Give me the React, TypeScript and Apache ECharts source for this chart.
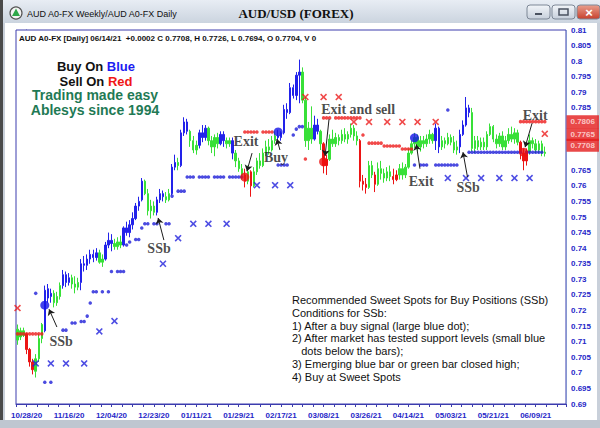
import React, { useEffect, useRef } from 'react';
import * as echarts from 'echarts';

const SANS = '"Liberation Sans", Arial, sans-serif';
const SERIF = '"Liberation Serif", "Times New Roman", serif';

const tickLabels = ['10/28/20', '11/16/20', '12/04/20', '12/23/20', '01/11/21', '01/29/21', '02/17/21', '03/08/21', '03/26/21', '04/14/21', '05/03/21', '05/21/21', '06/09/21'];
const firstBar = -3;
const xMin = -3.5;
const xMax = 178;
// [open, high, low, close, state]  B = buy (blue), G = neutral (green), R = sell (red)
const bars: [number, number, number, number, string][] = [
  [0.7105, 0.7155, 0.709, 0.714, 'G'], [0.7115, 0.7145, 0.7105, 0.7135, 'G'], [0.7135, 0.7145, 0.7115, 0.712, 'G'],
  [0.7125, 0.7128, 0.706, 0.7075, 'R'], [0.7075, 0.708, 0.702, 0.7035, 'R'], [0.7035, 0.7045, 0.6995, 0.701, 'R'],
  [0.7005, 0.706, 0.6985, 0.7045, 'G'], [0.7045, 0.7125, 0.7035, 0.711, 'G'], [0.711, 0.716, 0.7095, 0.7155, 'G'],
  [0.7135, 0.728, 0.713, 0.7265, 'B'], [0.727, 0.7285, 0.7225, 0.724, 'B'], [0.7245, 0.727, 0.7225, 0.7255, 'B'],
  [0.7255, 0.7265, 0.721, 0.7225, 'G'], [0.7225, 0.726, 0.7215, 0.7245, 'G'], [0.7245, 0.729, 0.7235, 0.728, 'G'],
  [0.728, 0.733, 0.727, 0.7315, 'B'], [0.7315, 0.7325, 0.7275, 0.729, 'B'], [0.729, 0.732, 0.728, 0.7305, 'B'],
  [0.7305, 0.7315, 0.727, 0.7285, 'G'], [0.7285, 0.731, 0.7255, 0.7275, 'G'], [0.7275, 0.7305, 0.7265, 0.729, 'G'],
  [0.729, 0.7365, 0.7265, 0.735, 'B'], [0.735, 0.7375, 0.7325, 0.7345, 'B'], [0.7345, 0.738, 0.733, 0.7365, 'B'],
  [0.7365, 0.7395, 0.735, 0.738, 'B'], [0.738, 0.7395, 0.7355, 0.737, 'B'], [0.737, 0.74, 0.736, 0.7385, 'B'],
  [0.7385, 0.7395, 0.735, 0.7355, 'G'], [0.7355, 0.738, 0.734, 0.7365, 'G'], [0.7365, 0.742, 0.736, 0.741, 'B'],
  [0.741, 0.745, 0.74, 0.7425, 'B'], [0.7425, 0.7445, 0.739, 0.7415, 'B'], [0.7415, 0.743, 0.7395, 0.7405, 'G'],
  [0.7405, 0.7435, 0.7395, 0.742, 'G'], [0.742, 0.744, 0.74, 0.741, 'G'], [0.741, 0.747, 0.7405, 0.7465, 'B'],
  [0.7465, 0.7485, 0.744, 0.745, 'B'], [0.745, 0.749, 0.7435, 0.7475, 'B'], [0.7475, 0.7515, 0.746, 0.7495, 'B'],
  [0.7495, 0.7545, 0.749, 0.7535, 'B'], [0.7535, 0.7565, 0.752, 0.755, 'B'], [0.7555, 0.7625, 0.755, 0.7615, 'B'],
  [0.7615, 0.762, 0.757, 0.7575, 'G'], [0.7575, 0.759, 0.7505, 0.752, 'G'], [0.752, 0.7555, 0.7495, 0.7535, 'G'],
  [0.7535, 0.755, 0.7505, 0.7515, 'G'], [0.7515, 0.7565, 0.7505, 0.7555, 'B'], [0.7555, 0.759, 0.7545, 0.7575, 'B'],
  [0.7575, 0.7585, 0.755, 0.7565, 'B'], [0.7565, 0.758, 0.7545, 0.7555, 'G'], [0.7555, 0.759, 0.755, 0.7575, 'G'],
  [0.7575, 0.767, 0.757, 0.766, 'B'], [0.766, 0.77, 0.765, 0.7675, 'B'], [0.7675, 0.769, 0.765, 0.7665, 'G'],
  [0.7665, 0.778, 0.766, 0.777, 'B'], [0.777, 0.782, 0.776, 0.7805, 'B'], [0.7805, 0.7815, 0.7765, 0.7775, 'B'],
  [0.7775, 0.778, 0.7725, 0.7745, 'G'], [0.7745, 0.776, 0.7705, 0.7715, 'G'], [0.7715, 0.7745, 0.77, 0.773, 'G'],
  [0.773, 0.778, 0.772, 0.777, 'B'], [0.777, 0.7795, 0.774, 0.7755, 'B'], [0.7755, 0.7795, 0.7745, 0.7785, 'B'],
  [0.7785, 0.779, 0.773, 0.7745, 'G'], [0.7745, 0.776, 0.7705, 0.7725, 'G'], [0.7725, 0.7765, 0.7695, 0.7755, 'G'],
  [0.7755, 0.777, 0.772, 0.7735, 'G'], [0.7735, 0.7775, 0.773, 0.7765, 'B'], [0.7765, 0.7775, 0.7725, 0.7745, 'B'],
  [0.7745, 0.7755, 0.772, 0.7735, 'G'], [0.7735, 0.7755, 0.7725, 0.7745, 'G'], [0.7745, 0.7755, 0.7685, 0.7705, 'B'],
  [0.7705, 0.7715, 0.766, 0.768, 'G'], [0.768, 0.769, 0.7645, 0.7655, 'G'], [0.7655, 0.767, 0.762, 0.7635, 'G'],
  [0.7635, 0.7655, 0.7595, 0.7615, 'R'], [0.7615, 0.7665, 0.7605, 0.7645, 'G'], [0.7645, 0.765, 0.7565, 0.76, 'R'],
  [0.76, 0.766, 0.7595, 0.7645, 'G'], [0.7645, 0.769, 0.7635, 0.768, 'G'], [0.768, 0.7705, 0.7655, 0.7665, 'G'],
  [0.7665, 0.772, 0.766, 0.7705, 'G'], [0.7705, 0.7745, 0.7695, 0.7725, 'G'], [0.7725, 0.775, 0.77, 0.7715, 'G'],
  [0.7715, 0.776, 0.771, 0.7745, 'G'], [0.7745, 0.7775, 0.7735, 0.776, 'G'], [0.776, 0.778, 0.774, 0.7755, 'B'],
  [0.7755, 0.7775, 0.7745, 0.777, 'B'], [0.777, 0.786, 0.7765, 0.7845, 'B'], [0.7845, 0.7865, 0.7815, 0.7835, 'B'],
  [0.7835, 0.793, 0.783, 0.7915, 'B'], [0.7915, 0.7925, 0.788, 0.789, 'B'], [0.789, 0.7965, 0.7875, 0.7955, 'B'],
  [0.7955, 0.8005, 0.7865, 0.7965, 'B'], [0.7965, 0.798, 0.7865, 0.7875, 'G'], [0.7875, 0.7885, 0.7725, 0.7745, 'G'],
  [0.7745, 0.7805, 0.7715, 0.7785, 'G'], [0.7785, 0.7855, 0.7735, 0.775, 'G'], [0.775, 0.7825, 0.7745, 0.7795, 'B'],
  [0.7795, 0.7815, 0.7765, 0.7775, 'B'], [0.7775, 0.778, 0.7715, 0.7735, 'G'], [0.7735, 0.774, 0.764, 0.7665, 'R'],
  [0.7665, 0.77, 0.7635, 0.7685, 'R'], [0.7685, 0.7765, 0.768, 0.775, 'G'], [0.775, 0.778, 0.7725, 0.7735, 'G'],
  [0.7735, 0.777, 0.7725, 0.7755, 'G'], [0.7755, 0.7765, 0.773, 0.7745, 'G'], [0.7745, 0.778, 0.7735, 0.7765, 'G'],
  [0.7765, 0.7785, 0.774, 0.775, 'G'], [0.775, 0.7775, 0.7735, 0.7765, 'G'], [0.7765, 0.78, 0.7755, 0.7785, 'G'],
  [0.7785, 0.7795, 0.7745, 0.776, 'G'], [0.776, 0.7775, 0.773, 0.7745, 'G'], [0.7745, 0.775, 0.7595, 0.7615, 'R'],
  [0.7615, 0.7635, 0.7585, 0.7605, 'R'], [0.7605, 0.7625, 0.7575, 0.7595, 'R'], [0.7595, 0.768, 0.759, 0.7665, 'G'],
  [0.7665, 0.768, 0.7625, 0.7635, 'G'], [0.7635, 0.7645, 0.758, 0.7605, 'R'], [0.7605, 0.7675, 0.76, 0.7655, 'G'],
  [0.7655, 0.768, 0.762, 0.764, 'G'], [0.764, 0.7655, 0.761, 0.7625, 'G'], [0.7625, 0.766, 0.7615, 0.7645, 'G'],
  [0.7645, 0.7665, 0.7615, 0.763, 'G'], [0.763, 0.7655, 0.7605, 0.762, 'R'], [0.762, 0.765, 0.7615, 0.7635, 'R'],
  [0.7635, 0.767, 0.762, 0.7655, 'G'], [0.7655, 0.7675, 0.762, 0.7635, 'G'], [0.7635, 0.767, 0.7625, 0.766, 'G'],
  [0.766, 0.772, 0.7655, 0.7705, 'G'], [0.7705, 0.7745, 0.77, 0.7735, 'G'], [0.7735, 0.777, 0.772, 0.7755, 'G'],
  [0.7755, 0.7765, 0.771, 0.7725, 'G'], [0.7725, 0.776, 0.771, 0.7745, 'G'], [0.7745, 0.776, 0.772, 0.7735, 'G'],
  [0.7735, 0.7765, 0.7725, 0.775, 'G'], [0.775, 0.778, 0.7735, 0.7765, 'G'], [0.7765, 0.777, 0.7735, 0.7745, 'G'],
  [0.7745, 0.78, 0.7715, 0.7785, 'B'], [0.7785, 0.779, 0.7705, 0.7725, 'B'], [0.7725, 0.776, 0.7715, 0.7745, 'G'],
  [0.7745, 0.7755, 0.772, 0.7735, 'G'], [0.7735, 0.777, 0.773, 0.7755, 'G'], [0.7755, 0.7765, 0.773, 0.774, 'G'],
  [0.774, 0.776, 0.7705, 0.7715, 'G'], [0.7715, 0.7745, 0.77, 0.7725, 'G'], [0.7725, 0.778, 0.7705, 0.7765, 'B'],
  [0.7765, 0.781, 0.776, 0.7795, 'B'], [0.7795, 0.7885, 0.779, 0.785, 'B'], [0.785, 0.786, 0.782, 0.7835, 'B'],
  [0.7835, 0.785, 0.771, 0.772, 'G'], [0.772, 0.776, 0.7705, 0.7745, 'G'], [0.7745, 0.776, 0.7715, 0.7725, 'G'],
  [0.7725, 0.7755, 0.7715, 0.774, 'G'], [0.774, 0.7755, 0.7715, 0.7725, 'G'], [0.7725, 0.7775, 0.7715, 0.7765, 'G'],
  [0.7765, 0.78, 0.776, 0.779, 'G'], [0.779, 0.7795, 0.774, 0.775, 'G'], [0.775, 0.7765, 0.772, 0.7735, 'G'],
  [0.7735, 0.777, 0.7725, 0.776, 'G'], [0.776, 0.7775, 0.7715, 0.7725, 'G'], [0.7725, 0.776, 0.7715, 0.7745, 'G'],
  [0.7745, 0.7785, 0.7735, 0.7765, 'G'], [0.7765, 0.779, 0.774, 0.775, 'G'], [0.775, 0.7785, 0.7735, 0.777, 'G'],
  [0.777, 0.778, 0.773, 0.774, 'G'], [0.774, 0.7745, 0.7685, 0.7705, 'R'], [0.7705, 0.772, 0.765, 0.768, 'R'],
  [0.768, 0.772, 0.7665, 0.771, 'R'], [0.771, 0.7765, 0.77, 0.7745, 'G'], [0.7745, 0.7755, 0.772, 0.7735, 'G'],
  [0.7735, 0.775, 0.7705, 0.7715, 'G'], [0.7715, 0.7745, 0.7705, 0.7735, 'G'], [0.7735, 0.7745, 0.7695, 0.7705, 'G'],
  [0.7704, 0.7726, 0.7694, 0.7708, 'G'],
];

// support levels (small blue dots below the bars): price level and bar indices
const blueDotLevels: { level: number; idx: number[] }[] = [
  { level: 0.7255, idx: [3] }, { level: 0.697, idx: [6, 8] }, { level: 0.7137, idx: [12, 13] },
  { level: 0.716, idx: [15, 16] }, { level: 0.7165, idx: [18, 19] }, { level: 0.7182, idx: [20] }, { level: 0.7224, idx: [21] },
  { level: 0.726, idx: [22, 23, 25, 27] }, { level: 0.7325, idx: [28, 30, 31, 32] },
  { level: 0.741, idx: [33] }, { level: 0.742, idx: [34] }, { level: 0.7428, idx: [36, 37] }, { level: 0.7465, idx: [38] },
  { level: 0.7478, idx: [39, 40, 42, 43, 46, 47] }, { level: 0.7567, idx: [48] }, { level: 0.7583, idx: [50, 51, 52] },
  { level: 0.7628, idx: [53, 54, 55, 57, 58, 59, 60, 62, 63, 64, 65, 67, 68, 69, 70, 71] },
  { level: 0.7667, idx: [83, 84, 85, 86] }, { level: 0.7763, idx: [88] }, { level: 0.7782, idx: [89] }, { level: 0.779, idx: [90, 91] },
  { level: 0.7667, idx: [128, 130, 131, 132, 135, 136, 137, 138, 139, 140, 141, 142] }, { level: 0.7843, idx: [139] },
  { level: 0.7708, idx: [146, 147, 148, 149, 150, 151, 152, 153, 154, 155, 156, 157, 158, 159, 160, 161, 162, 163, 165, 166, 167, 168, 169, 170] },
];
// resistance levels (small red dots above the bars)
const redDotLevels: { level: number; idx: number[] }[] = [
  { level: 0.7125, idx: [-3, -2, -1, 0, 1, 2, 3, 4, 5] },
  { level: 0.7773, idx: [72, 73, 74, 75, 76, 78, 79, 80, 81] }, { level: 0.7686, idx: [92] },
  { level: 0.7818, idx: [98, 99, 100, 102, 103, 104, 105, 106, 107, 108, 109, 110] }, { level: 0.7763, idx: [111] },
  { level: 0.7737, idx: [113, 114, 115, 116, 117] }, { level: 0.7728, idx: [118, 119, 120, 121, 122, 123] },
  { level: 0.7718, idx: [124, 125, 126, 127] }, { level: 0.7806, idx: [163, 164, 165, 166, 167, 168, 169, 170, 171] },
];
const redCrosses: [number, number][] = [
  [-3, 0.7208], [92, 0.7885], [98, 0.7885], [103, 0.7885], [108, 0.7805], [113, 0.7805], [119, 0.7805],
  [124, 0.7805], [129, 0.7805], [135, 0.7805], [171, 0.7767],
];
const blueCrosses: [number, number][] = [
  [3, 0.703], [8, 0.703], [13, 0.703], [19, 0.703], [24, 0.7133], [29, 0.7166], [45, 0.735], [50, 0.7432],
  [55, 0.7478], [60, 0.7478], [66, 0.7478], [76, 0.7602], [82, 0.7602], [87, 0.7602],
  [139, 0.7625], [145, 0.7625], [150, 0.7625], [156, 0.7625], [161, 0.7625], [166, 0.7625],
];
const buySignals: [number, number][] = [[6, 0.7217], [83, 0.7773], [128, 0.7754]];
const exitSignals: [number, number][] = [[72, 0.7628], [98, 0.7677], [164, 0.7708]];
const priceTags = [0.7806, 0.7765, 0.7708];
// axis labels hidden behind the price tags
const coveredTicks = ['0.78', '0.775', '0.77'];

const annotations = [
  { text: 'SSb', at: [11.4, 0.7102], from: [10, 0.7147], to: [7.4, 0.7204] },
  { text: 'SSb', at: [43.7, 0.740], from: [45.3, 0.7426], to: [43.4, 0.7497] },
  { text: 'Exit', at: [72.4, 0.7741], from: [74.4, 0.7705], to: [72.7, 0.7647] },
  { text: 'Buy', at: [82.3, 0.7692], from: [83.6, 0.7715], to: [82.6, 0.775] },
  { text: 'Exit and sell', at: [109.4, 0.7846], from: [99.8, 0.7814], to: [98.5, 0.7696] },
  { text: 'Exit', at: [130.2, 0.7615], from: [129.8, 0.7655], to: [128.6, 0.7733] },
  { text: 'SSb', at: [145.7, 0.7596], from: [145.5, 0.7628], to: [144, 0.7708] },
  { text: 'Exit', at: [167.8, 0.7827], from: [166.8, 0.7801], to: [164.5, 0.7724] },
];

const headerText = 'AUD A0-FX [Daily] 06/14/21  +0.0002 C 0.7708, H 0.7726, L 0.7694, O 0.7704, V 0';
const noteLines = [
  'Recommended Sweet Spots for Buy Positions (SSb)',
  'Conditions for SSb:',
  '1) After a buy signal (large blue dot);',
  '2) After market has tested support levels (small blue',
  '   dots below the bars);',
  '3) Emerging blue bar or green bar closed high;',
  '4) Buy at Sweet Spots',
];

const STATE_COLORS: Record<string, string> = { B: '#2222ea', G: '#38e038', R: '#ec1414' };
const CROSS = 'path://M0,1.6L1.6,0L5,3.4L8.4,0L10,1.6L6.6,5L10,8.4L8.4,10L5,6.6L1.6,10L0,8.4L3.4,5Z';

function levelPoints(levels: { level: number; idx: number[] }[]) {
  const out: [number, number][] = [];
  levels.forEach((l) => l.idx.forEach((i) => out.push([i, l.level])));
  return out;
}

export default function App() {
  const ref = useRef<HTMLDivElement>(null);
  useEffect(() => {
    const chart = echarts.init(ref.current!, null, { renderer: 'svg' });
    const candleData = bars.map((b, k) => {
      const [o, h, l, c, s] = b;
      const col = STATE_COLORS[s];
      return {
        value: [firstBar + k, o, c, l, h],
        itemStyle: { color: col, color0: col, borderColor: col, borderColor0: col },
      };
    });

    const btn = (x: number, fill: any) => ({
      type: 'rect', z: 5, shape: { x, y: 5, width: 23, height: 14, r: 3 },
      style: { fill, stroke: '#7d8796', lineWidth: 1 },
    });
    const btnGrad = new echarts.graphic.LinearGradient(0, 0, 0, 1, [
      { offset: 0, color: '#f2f5f9' }, { offset: 1, color: '#c6cfdb' },
    ]);

    chart.setOption({
      animation: false,
      backgroundColor: '#ffffff',
      grid: {
        left: 16, right: 34, top: 30, bottom: 24, show: true,
        borderColor: '#3c3cae', borderWidth: 1, backgroundColor: '#ffffff', z: 1,
      },
      xAxis: {
        type: 'value', min: xMin, max: xMax, interval: 3.5,
        axisLine: { show: true, lineStyle: { color: '#3c3cae', width: 1 } },
        axisTick: { show: true, length: 3, lineStyle: { color: '#3c3cae' } },
        splitLine: { show: true, lineStyle: { color: '#cdf1f2', width: 1 } },
        axisLabel: {
          color: '#2626c8', fontSize: 8, fontWeight: 'bold', fontFamily: SANS, margin: 7,
          showMinLabel: true, showMaxLabel: true,
          formatter: (v: number) => {
            const k = Math.round(v / 14);
            if (v >= 0 && Math.abs(v / 14 - k) < 1e-6 && tickLabels[k]) return tickLabels[k];
            return '';
          },
        },
      },
      yAxis: {
        type: 'value', position: 'right', min: 0.69, max: 0.81, interval: 0.005,
        axisLine: { show: true, lineStyle: { color: '#3c3cae', width: 1 } },
        axisTick: { show: true, length: 2, lineStyle: { color: '#3c3cae' } },
        splitLine: { show: true, lineStyle: { color: '#cdf1f2', width: 1 } },
        axisLabel: {
          color: '#2626c8', fontSize: 8, fontWeight: 'bold', fontFamily: SANS, margin: 5,
          formatter: (v: number) => {
            const s = v.toFixed(3).replace(/0+$/, '').replace(/\.$/, '');
            return coveredTicks.indexOf(s) >= 0 ? '' : s;
          },
        },
      },
      series: [
        {
          type: 'candlestick', name: 'AUD', data: candleData, encode: { x: 0, y: [1, 2, 3, 4] },
          barWidth: 1.9, itemStyle: { borderWidth: 1 }, z: 3,
        },
        { type: 'scatter', name: 'support', data: levelPoints(blueDotLevels), symbolSize: 3.5, itemStyle: { color: '#1e1ed8' }, z: 4 },
        { type: 'scatter', name: 'resistance', data: levelPoints(redDotLevels), symbolSize: 3.5, itemStyle: { color: '#ee1c1c' }, z: 4 },
        { type: 'scatter', name: 'blueX', data: blueCrosses, symbol: CROSS, symbolSize: 7, itemStyle: { color: '#2020dc' }, z: 4 },
        { type: 'scatter', name: 'redX', data: redCrosses, symbol: CROSS, symbolSize: 7, itemStyle: { color: '#ec1c1c' }, z: 4 },
        { type: 'scatter', name: 'buy', data: buySignals, symbolSize: 9, itemStyle: { color: '#1414e6' }, z: 5 },
        { type: 'scatter', name: 'exit', data: exitSignals, symbolSize: 9, itemStyle: { color: '#ee1010' }, z: 5 },
        {
          type: 'scatter', name: 'tags', clip: false, z: 20, symbolSize: 1, itemStyle: { color: 'transparent' },
          data: priceTags.map((v, k) => ({
            value: [xMax, v],
            label: k === 2 ? { offset: [0, -7] } : {},
          })),
          label: {
            show: true, position: 'right', distance: 0,
            formatter: (p: any) => p.value[1].toFixed(4),
            backgroundColor: '#e41c1c', color: '#ffe6e6', fontSize: 8, fontWeight: 'bold', fontFamily: SANS,
            padding: [3, 4, 2, 4],
          },
        },
        {
          type: 'scatter', name: 'notes', z: 6, symbolSize: 1, itemStyle: { color: 'transparent' },
          data: annotations.map((a) => ({ name: a.text, value: a.at })),
          label: {
            show: true, position: 'inside', formatter: (p: any) => p.name,
            fontFamily: SERIF, fontWeight: 'bold', fontSize: 14, color: '#1c1c1c',
          },
          markLine: {
            silent: true, symbol: ['none', 'arrow'], symbolSize: 6,
            lineStyle: { color: '#1c1c1c', width: 1, type: 'solid' }, label: { show: false },
            data: annotations.map((a) => [{ coord: a.from }, { coord: a.to }]),
          },
        },
      ],
      graphic: [
        // window chrome
        { type: 'rect', z: -10, shape: { x: 0, y: 0, width: 600, height: 428 }, style: { fill: '#c9d0da' } },
        {
          type: 'rect', z: -9, shape: { x: 0, y: 0, width: 600, height: 23 },
          style: { fill: new echarts.graphic.LinearGradient(0, 0, 0, 1, [{ offset: 0, color: '#e8edf4' }, { offset: 1, color: '#cbd4df' }]) },
        },
        { type: 'rect', z: -9, shape: { x: 5, y: 23, width: 592, height: 397 }, style: { fill: '#ffffff' } },
        { type: 'rect', z: -8, shape: { x: 0, y: 0, width: 3, height: 428 }, style: { fill: '#4a4a4a' } },
        { type: 'rect', z: -8, shape: { x: 0, y: 420, width: 600, height: 8 }, style: { fill: '#bfc6d0' } },
        { type: 'circle', z: 5, shape: { cx: 16, cy: 13, r: 6 }, style: { fill: '#f4f4f4', stroke: '#555', lineWidth: 1.2 } },
        { type: 'polygon', z: 6, shape: { points: [[16, 8.5], [20, 16], [12, 16]] }, style: { fill: '#2ea84a' } },
        {
          type: 'text', z: 5, style: {
            text: 'AUD A0-FX Weekly/AUD A0-FX Daily', x: 27, y: 14, fill: '#111',
            fontSize: 9, fontFamily: SANS, verticalAlign: 'middle',
          },
        },
        {
          type: 'text', z: 5, style: {
            text: 'AUD/USD (FOREX)', x: 296, y: 13, fill: '#111', fontSize: 13, fontWeight: 'bold',
            fontFamily: SERIF, align: 'center', verticalAlign: 'middle',
          },
        },
        btn(527, btnGrad),
        { type: 'rect', z: 6, shape: { x: 535, y: 13, width: 7, height: 2 }, style: { fill: '#4a5260' } },
        btn(552, btnGrad),
        { type: 'rect', z: 6, shape: { x: 559, y: 9, width: 9, height: 6 }, style: { fill: 'none', stroke: '#4a5260', lineWidth: 1.5 } },
        btn(577, new echarts.graphic.LinearGradient(0, 0, 0, 1, [{ offset: 0, color: '#e9a08f' }, { offset: 1, color: '#c7402c' }])),
        {
          type: 'text', z: 6, style: {
            text: '×', x: 589, y: 12, fill: '#ffffff', fontSize: 13, fontWeight: 'bold', fontFamily: SANS,
            align: 'center', verticalAlign: 'middle',
          },
        },
        // header line inside the plot
        {
          type: 'text', z: 10, style: {
            text: headerText, x: 19, y: 38, fill: '#111', fontSize: 8, fontWeight: 'bold', fontFamily: SANS,
            verticalAlign: 'middle',
          },
        },
        // legend text
        {
          type: 'text', z: 10, style: {
            text: '{a|Buy On }{b|Blue}', x: 96, y: 66, align: 'center', verticalAlign: 'middle',
            fontSize: 13, fontWeight: 'bold', fontFamily: SANS,
            rich: {
              a: { fill: '#111', fontSize: 13, fontWeight: 'bold', fontFamily: SANS },
              b: { fill: '#1c1cf2', fontSize: 13, fontWeight: 'bold', fontFamily: SANS },
            },
          },
        },
        {
          type: 'text', z: 10, style: {
            text: '{a|Sell On }{b|Red}', x: 96, y: 81, align: 'center', verticalAlign: 'middle',
            fontSize: 13, fontWeight: 'bold', fontFamily: SANS,
            rich: {
              a: { fill: '#111', fontSize: 13, fontWeight: 'bold', fontFamily: SANS },
              b: { fill: '#f01616', fontSize: 13, fontWeight: 'bold', fontFamily: SANS },
            },
          },
        },
        {
          type: 'text', z: 10, style: {
            text: 'Trading made easy', x: 95, y: 95, align: 'center', verticalAlign: 'middle',
            fill: '#1f7a55', fontSize: 14, fontWeight: 'bold', fontFamily: SANS,
          },
        },
        {
          type: 'text', z: 10, style: {
            text: 'Ablesys since 1994', x: 95, y: 110, align: 'center', verticalAlign: 'middle',
            fill: '#1f7a55', fontSize: 14, fontWeight: 'bold', fontFamily: SANS,
          },
        },
        // explanatory note
        {
          type: 'text', z: 10, style: {
            text: noteLines.join('\n'), x: 292, y: 294, fill: '#111', fontSize: 11, lineHeight: 12.7,
            fontFamily: SANS, verticalAlign: 'top',
          },
        },
      ],
    });
    return () => chart.dispose();
  }, []);
  return <div ref={ref} style={{ position: 'fixed', left: 0, top: 0, width: 600, height: 428 }} />;
}
